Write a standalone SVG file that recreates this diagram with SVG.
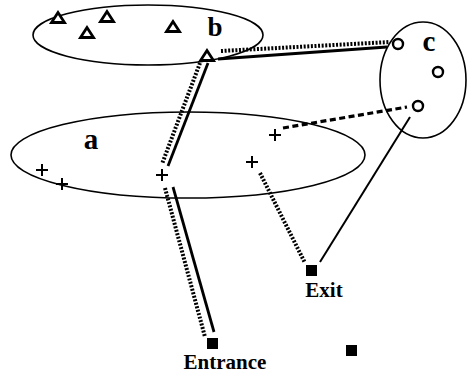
<svg xmlns="http://www.w3.org/2000/svg" width="471" height="373" viewBox="0 0 471 373">
<defs>
<style>
.reg{fill:none;stroke:#000;stroke-width:1.6}
.tri{fill:#fff;stroke:#000;stroke-width:2.8;stroke-linejoin:miter}
.circ{fill:#fff;stroke:#000;stroke-width:2.4}
.plus{stroke:#000;stroke-width:2;fill:none}
.sq{fill:#000}
.lbl{font-family:"Liberation Serif",serif;font-weight:bold;fill:#000}
.solid{stroke:#000;stroke-width:2.8;fill:none}
.dot{stroke:#000;stroke-width:4;stroke-dasharray:2 1.6;fill:none}
.dash{stroke:#000;stroke-width:3.2;stroke-dasharray:6 3.5;fill:none}
.thin{stroke:#000;stroke-width:2;fill:none}
</style>
</defs>
<rect width="471" height="373" fill="#fff"/>
<g id="region-b">
<ellipse class="reg" cx="148" cy="35" rx="115" ry="30"/>
<text class="lbl" x="215" y="36" font-size="27" text-anchor="middle">b</text>
</g>
<g id="region-a">
<ellipse class="reg" cx="188" cy="155" rx="177" ry="43"/>
<text class="lbl" x="91" y="149" font-size="29" text-anchor="middle">a</text>
</g>
<g id="region-c">
<ellipse class="reg" cx="423" cy="80" rx="43" ry="58"/>
<text class="lbl" x="429" y="51" font-size="29" text-anchor="middle">c</text>
</g>
<g id="connectors">
<line class="solid" x1="218" y1="59" x2="387" y2="47"/>
<line class="dot" x1="221" y1="51" x2="390" y2="42"/>
<line class="solid" x1="208" y1="63" x2="168" y2="166"/>
<line class="dot" x1="200" y1="63" x2="162" y2="164"/>
<line class="solid" x1="173" y1="187" x2="214" y2="332"/>
<line class="dot" x1="165" y1="188" x2="205" y2="337"/>
<line class="dot" x1="260" y1="173" x2="305" y2="263"/>
<line class="thin" x1="410" y1="117" x2="320" y2="262"/>
<line class="dash" x1="283" y1="128" x2="407" y2="107"/>
</g>
<g id="node-b-t1"><polygon class="tri" points="58,12.5 51.5,22.5 64.5,22.5"/></g>
<g id="node-b-t2"><polygon class="tri" points="87,27.5 80.5,37.5 93.5,37.5"/></g>
<g id="node-b-t3"><polygon class="tri" points="107,11.5 100.5,21.5 113.5,21.5"/></g>
<g id="node-b-t4"><polygon class="tri" points="173,21.5 166.5,31.5 179.5,31.5"/></g>
<g id="node-b-t5"><polygon class="tri" points="207,50.5 200.5,60.5 213.5,60.5"/></g>
<g id="node-c-o1"><circle class="circ" cx="398" cy="44" r="5"/></g>
<g id="node-c-o2"><circle class="circ" cx="438" cy="72" r="5"/></g>
<g id="node-c-o3"><circle class="circ" cx="418" cy="106" r="5"/></g>
<g id="node-a-p1"><path class="plus" d="M36 170h12M42 164v12"/></g>
<g id="node-a-p2"><path class="plus" d="M56 184h12M62 178v12"/></g>
<g id="node-a-p3"><path class="plus" d="M156 175h12M162 169v12"/></g>
<g id="node-a-p4"><path class="plus" d="M269 135h12M275 129v12"/></g>
<g id="node-a-p5"><path class="plus" d="M246 162h12M252 156v12"/></g>
<g id="node-exit">
<rect class="sq" x="306" y="265" width="11" height="11"/>
<text class="lbl" x="324" y="297" font-size="21" text-anchor="middle">Exit</text>
</g>
<g id="node-entrance">
<rect class="sq" x="207" y="338" width="11" height="11"/>
<text class="lbl" x="225" y="369" font-size="21" text-anchor="middle">Entrance</text>
</g>
<g id="node-square">
<rect class="sq" x="346" y="345" width="11" height="11"/>
</g>
</svg>
